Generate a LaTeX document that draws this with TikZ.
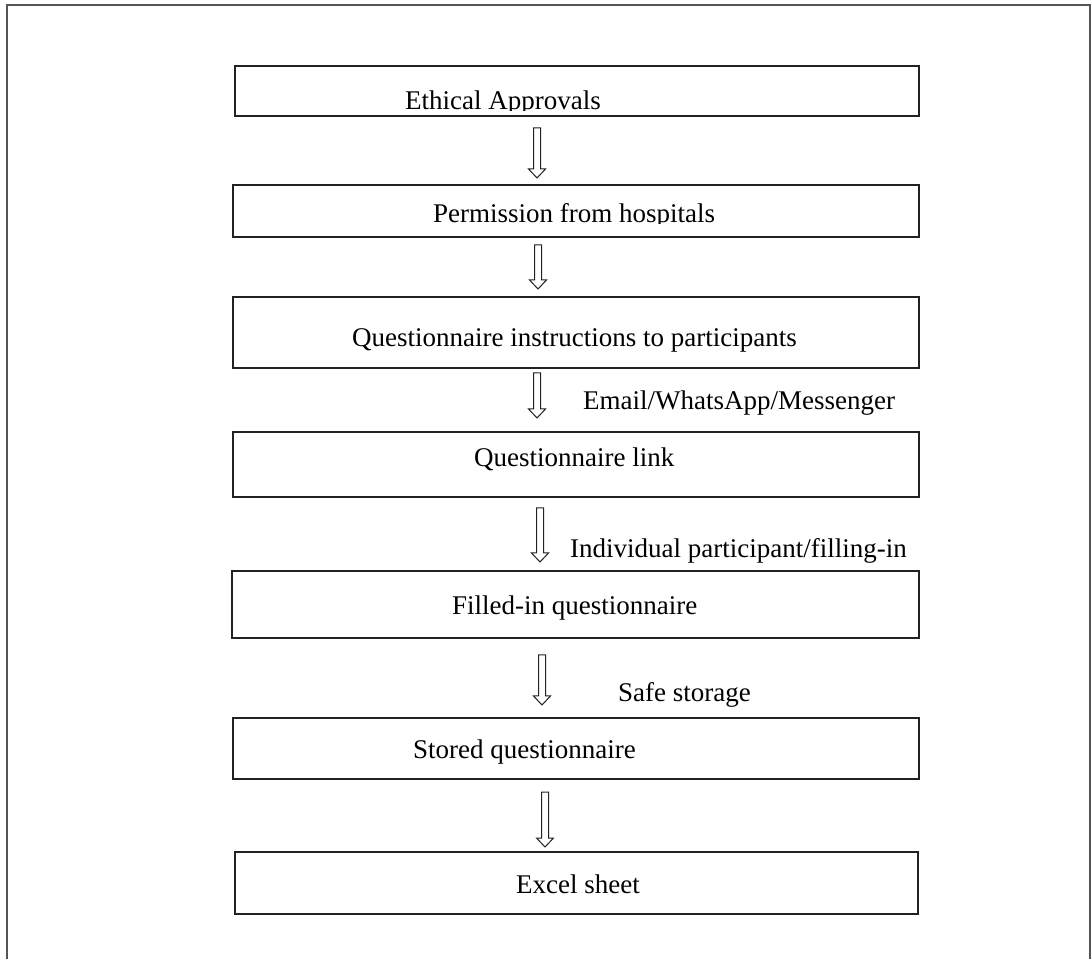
\documentclass[tikz,border=0pt]{standalone}
\usepackage{fontspec}
\setmainfont{Liberation Serif}
\usetikzlibrary{calc}
\definecolor{linec}{HTML}{222222}
\definecolor{framec}{HTML}{555555}
\tikzset{
  box/.style={draw=linec, line width=1.8pt, fill=none, inner sep=0pt, minimum width=686pt},
  txt/.style={inner sep=0pt, text=black, font=\fontsize{27}{32}\selectfont},
  frameline/.style={draw=framec, line width=1.8pt},
  blockarrow/.style={draw=linec, fill=white, line width=1pt, line join=miter,
    to path={ -- ++(3.5,0) -- ($(\tikztotarget)+(3.5,9)$) -- ($(\tikztotarget)+(8.5,9)$)
      -- (\tikztotarget) -- ($(\tikztotarget)+(-8.5,9)$) -- ($(\tikztotarget)+(-3.5,9)$)
      -- ($(\tikztostart)+(-3.5,0)$) -- cycle}}
}
\begin{document}
\begin{tikzpicture}[x=1pt,y=1pt]
\useasboundingbox (0,0) rectangle (1092,959);
\fill[white] (0,0) rectangle (1092,959);
% outer frame (open at bottom)
\coordinate (fbl) at (7,0);
\coordinate (ftl) at (7,954);
\coordinate (ftr) at (1090,954);
\coordinate (fbr) at (1090,0);
\draw[frameline] (fbl) -- (ftl) -- (ftr) -- (fbr);
% boxes
\node[box, minimum width=684pt, minimum height=50pt] (b1) at (577,868) {};
\node[box, minimum height=52pt] (b2) at (576,748) {};
\node[box, minimum height=71pt] (b3) at (576,626.5) {};
\node[box, minimum height=65pt] (b4) at (576,494.5) {};
\node[box, minimum width=687pt, minimum height=67pt] (b5) at (575.5,354.5) {};
\node[box, minimum height=61pt] (b6) at (576,210.5) {};
\node[box, minimum width=683pt, minimum height=62pt] (b7) at (576.5,76) {};
% box texts
\begin{scope}
\clip (0,848) rectangle (1092,959);
\node[txt, anchor=base west] (t1) at (405,849) {Ethical Approvals};
\end{scope}
\begin{scope}
\clip (0,735) rectangle (1092,959);
\node[txt, anchor=base west] (t2) at (433,736) {Permission from hospitals};
\end{scope}
\node[txt, anchor=base west] (t3) at (352,612) {Questionnaire instructions to participants};
\node[txt, anchor=base west] (t4) at (474,492) {Questionnaire link};
\node[txt, anchor=base west] (t5) at (452,344) {Filled-in questionnaire};
\node[txt, anchor=base west] (t6) at (413,201) {Stored questionnaire};
\node[txt, anchor=base] (t7) at (578,66) {Excel sheet};
% arrow labels
\node[txt, anchor=base west] (l3) at (583,549) {Email/WhatsApp/Messenger};
\node[txt, anchor=base west] (l4) at (570,401) {Individual participant/filling-in};
\node[txt, anchor=base west] (l5) at (618,257) {Safe storage};
% block arrows
\coordinate (a1s) at (537,831); \coordinate (a1e) at (537,781);
\coordinate (a2s) at (538,714); \coordinate (a2e) at (538,670);
\coordinate (a3s) at (537,586); \coordinate (a3e) at (537,541);
\coordinate (a4s) at (540,451); \coordinate (a4e) at (540,397);
\coordinate (a5s) at (542,304); \coordinate (a5e) at (542,254);
\coordinate (a6s) at (545,167); \coordinate (a6e) at (545,112);
\draw[blockarrow] (a1s) to (a1e);
\draw[blockarrow] (a2s) to (a2e);
\draw[blockarrow] (a3s) to (a3e);
\draw[blockarrow] (a4s) to (a4e);
\draw[blockarrow] (a5s) to (a5e);
\draw[blockarrow] (a6s) to (a6e);
\end{tikzpicture}
\end{document}
